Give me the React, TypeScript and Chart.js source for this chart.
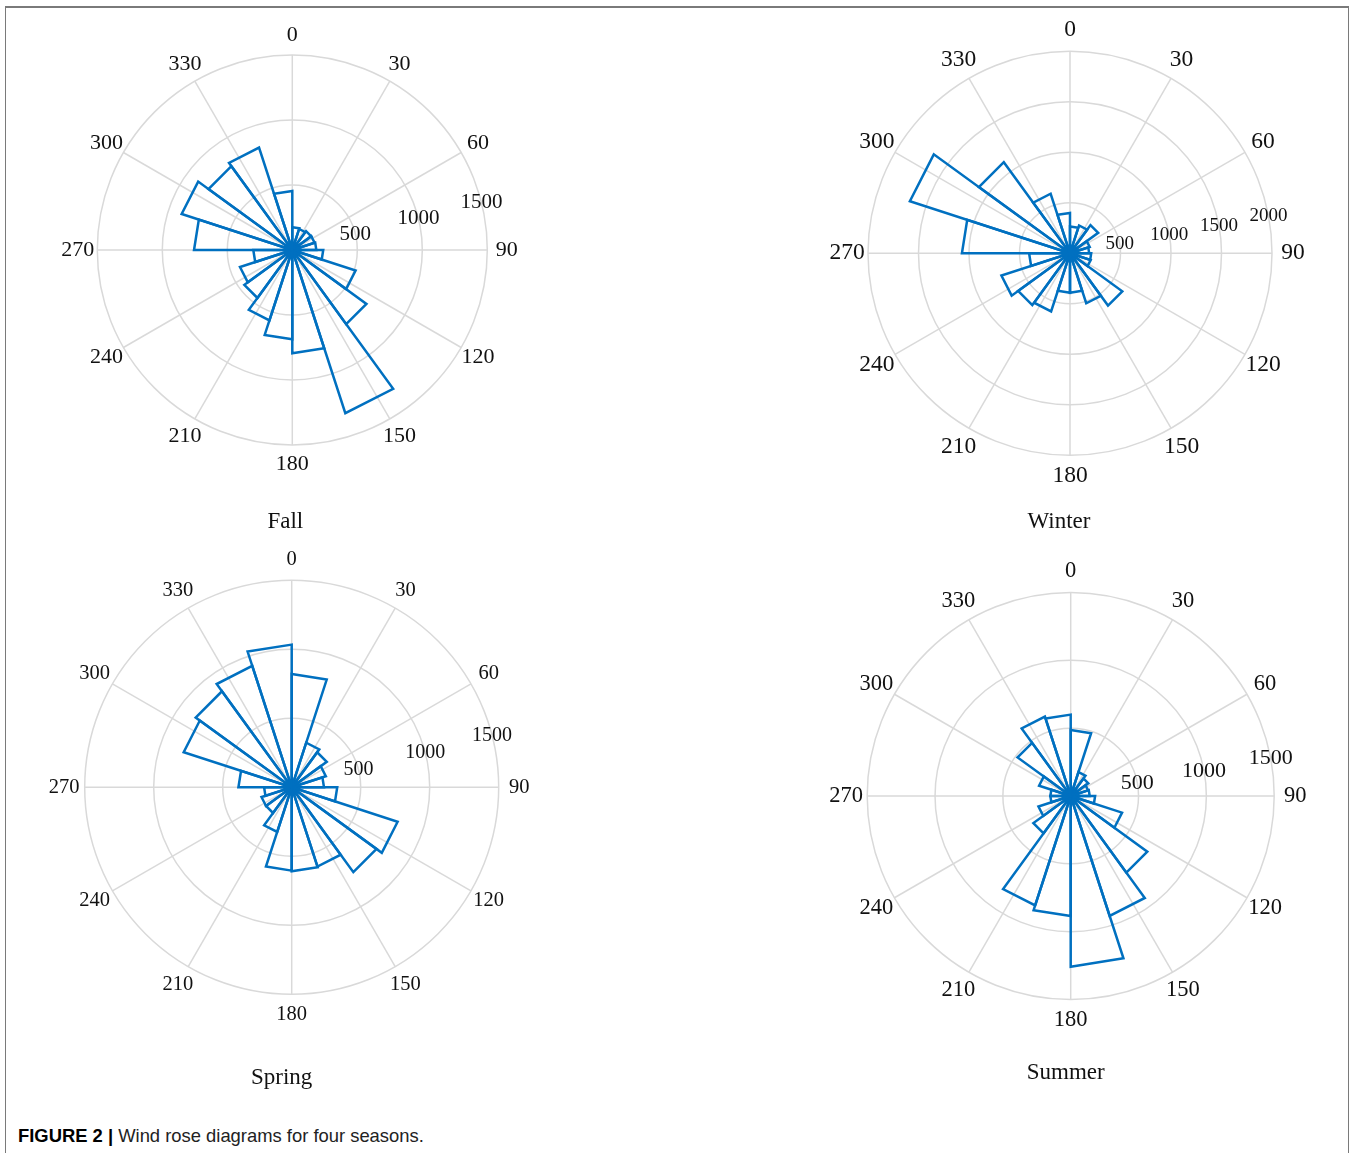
import React, { useEffect, useRef } from 'react';
import { Chart, registerables } from 'chart.js';

Chart.register(...registerables);

// 20 direction bins of 18 degrees, clockwise from north
const directionBins = [
  '0–18°', '18–36°', '36–54°', '54–72°', '72–90°',
  '90–108°', '108–126°', '126–144°', '144–162°', '162–180°',
  '180–198°', '198–216°', '216–234°', '234–252°', '252–270°',
  '270–288°', '288–306°', '306–324°', '324–342°', '342–360°',
];

const angleTicks = [0, 30, 60, 90, 120, 150, 180, 210, 240, 270, 300, 330];

const fallCounts = [175, 170, 180, 180, 185, 238, 512, 705, 1320, 795, 687, 569, 456, 423, 300, 756, 895, 797, 828, 454];
const winterCounts = [265, 290, 345, 205, 190, 210, 215, 640, 520, 390, 390, 605, 635, 714, 405, 1070, 1667, 1115, 620, 400];
const springCounts = [821, 340, 314, 260, 234, 330, 807, 760, 604, 609, 604, 340, 230, 230, 200, 386, 823, 860, 925, 1034];
const summerCounts = [487, 185, 160, 135, 140, 180, 398, 698, 929, 1258, 885, 848, 340, 250, 150, 150, 245, 484, 615, 600];

const fallRadiusTicks = [500, 1000, 1500];
const winterRadiusTicks = [500, 1000, 1500, 2000];
const springRadiusTicks = [500, 1000, 1500];
const summerRadiusTicks = [500, 1000, 1500];

const BLUE = '#0070C0';
const GRID = '#d9d9d9';
const SERIF = '"Liberation Serif", "Times New Roman", serif';

type Panel = {
  title: string;
  counts: number[];
  rTicks: number[];
  cx: number;
  cy: number;
  R: number;
  labelR: number;
  angleFont: number;
  tickFont: number;
  tickAngle: number;
  titleDx: number;
  titleDy: number;
  titleFont: number;
};

const panels: Panel[] = [
  { title: 'Fall', counts: fallCounts, rTicks: fallRadiusTicks, cx: 292.3, cy: 250, R: 195, labelR: 214.5, angleFont: 22, tickFont: 21, tickAngle: 76, titleDx: -7, titleDy: 272, titleFont: 23 },
  { title: 'Winter', counts: winterCounts, rTicks: winterRadiusTicks, cx: 1070, cy: 253.3, R: 202, labelR: 223, angleFont: 23.5, tickFont: 19, tickAngle: 79.5, titleDx: -11, titleDy: 269, titleFont: 23 },
  { title: 'Spring', counts: springCounts, rTicks: springRadiusTicks, cx: 291.7, cy: 787.3, R: 207, labelR: 227.5, angleFont: 20.5, tickFont: 20, tickAngle: 75.5, titleDx: -10, titleDy: 291, titleFont: 23 },
  { title: 'Summer', counts: summerCounts, rTicks: summerRadiusTicks, cx: 1070.7, cy: 796, R: 203.5, labelR: 224.5, angleFont: 22.5, tickFont: 22, tickAngle: 79.3, titleDx: -5, titleDy: 277, titleFont: 23 },
];

const PAD = 45;

function makeDecor(p: Panel) {
  return {
    id: 'roseDecor',
    beforeDatasetsDraw(chart: any) {
      const s = chart.scales.r;
      const ctx = chart.ctx as CanvasRenderingContext2D;
      ctx.save();
      ctx.strokeStyle = GRID;
      ctx.lineWidth = 1.5;
      angleTicks.forEach((deg) => {
        const a = ((deg - 90) * Math.PI) / 180;
        ctx.beginPath();
        ctx.moveTo(s.xCenter, s.yCenter);
        ctx.lineTo(s.xCenter + Math.cos(a) * s.drawingArea, s.yCenter + Math.sin(a) * s.drawingArea);
        ctx.stroke();
      });
      ctx.restore();
    },
    afterDraw(chart: any) {
      const s = chart.scales.r;
      const ctx = chart.ctx as CanvasRenderingContext2D;
      ctx.save();
      ctx.fillStyle = '#111';
      ctx.textAlign = 'center';
      ctx.textBaseline = 'middle';
      ctx.font = `${p.angleFont}px ${SERIF}`;
      angleTicks.forEach((deg) => {
        const a = ((deg - 90) * Math.PI) / 180;
        ctx.fillText(String(deg), s.xCenter + Math.cos(a) * p.labelR, s.yCenter + Math.sin(a) * p.labelR);
      });
      ctx.font = `${p.tickFont}px ${SERIF}`;
      const ta = ((p.tickAngle - 90) * Math.PI) / 180;
      p.rTicks.forEach((v) => {
        const r = s.getDistanceFromCenterForValue(v);
        ctx.fillText(String(v), s.xCenter + Math.cos(ta) * r, s.yCenter + Math.sin(ta) * r);
      });
      ctx.font = `${p.titleFont}px ${SERIF}`;
      ctx.fillText(p.title, s.xCenter + p.titleDx, s.yCenter + p.titleDy);
      ctx.restore();
    },
  };
}

function RosePanel({ p }: { p: Panel }) {
  const ref = useRef<HTMLCanvasElement>(null);
  const left = Math.round(p.cx - p.R - PAD);
  const top = Math.round(p.cy - p.R - PAD);
  const width = Math.round(2 * (p.R + PAD));
  const height = Math.round(p.R + PAD + p.titleDy + 24);
  const cxLocal = p.cx - left;
  const cyLocal = p.cy - top;

  useEffect(() => {
    if (!ref.current) return;
    const chart = new Chart(ref.current, {
      type: 'polarArea',
      data: {
        labels: directionBins,
        datasets: [
          {
            data: p.counts,
            backgroundColor: 'rgba(255,255,255,0)',
            borderColor: BLUE,
            borderWidth: 2.5,
            circular: false,
            borderJoinStyle: 'miter',
            borderAlign: 'center',
          } as any,
        ],
      },
      options: {
        responsive: false,
        animation: false,
        events: [],
        layout: { padding: 0 },
        plugins: {
          legend: { display: false },
          tooltip: { enabled: false },
        },
        scales: {
          r: {
            min: 0,
            max: p.rTicks[p.rTicks.length - 1],
            startAngle: 0,
            ticks: { display: false, stepSize: 500 },
            grid: { color: GRID, lineWidth: 1.5, circular: true },
            angleLines: { display: false },
            pointLabels: { display: false },
            afterFit: (s: any) => {
              s.xCenter = cxLocal;
              s.yCenter = cyLocal;
              s.drawingArea = p.R;
            },
          } as any,
        },
      },
      plugins: [makeDecor(p)],
    });
    return () => chart.destroy();
  }, []);

  return (
    <canvas
      ref={ref}
      width={width}
      height={height}
      style={{ position: 'absolute', left, top, width, height }}
    />
  );
}

export default function App() {
  return (
    <div
      style={{
        position: 'absolute',
        left: 0,
        top: 0,
        width: 1354,
        height: 1153,
        overflow: 'hidden',
        background: '#fff',
      }}
    >
      <div
        style={{
          position: 'absolute',
          left: 5,
          top: 6,
          width: 1342,
          height: 1200,
          borderTop: '2px solid #7a7a7a',
          borderLeft: '1px solid #7a7a7a',
          borderRight: '1px solid #7a7a7a',
        }}
      />
      {panels.map((p) => (
        <RosePanel key={p.title} p={p} />
      ))}
      <div
        style={{
          position: 'absolute',
          left: 18,
          top: 1125,
          fontFamily: '"Liberation Sans", Arial, sans-serif',
          fontSize: 18.4,
          color: '#222',
          whiteSpace: 'nowrap',
        }}
      >
        <span style={{ fontWeight: 'bold', color: '#000' }}>FIGURE 2 |</span> Wind rose diagrams for four seasons.
      </div>
    </div>
  );
}
